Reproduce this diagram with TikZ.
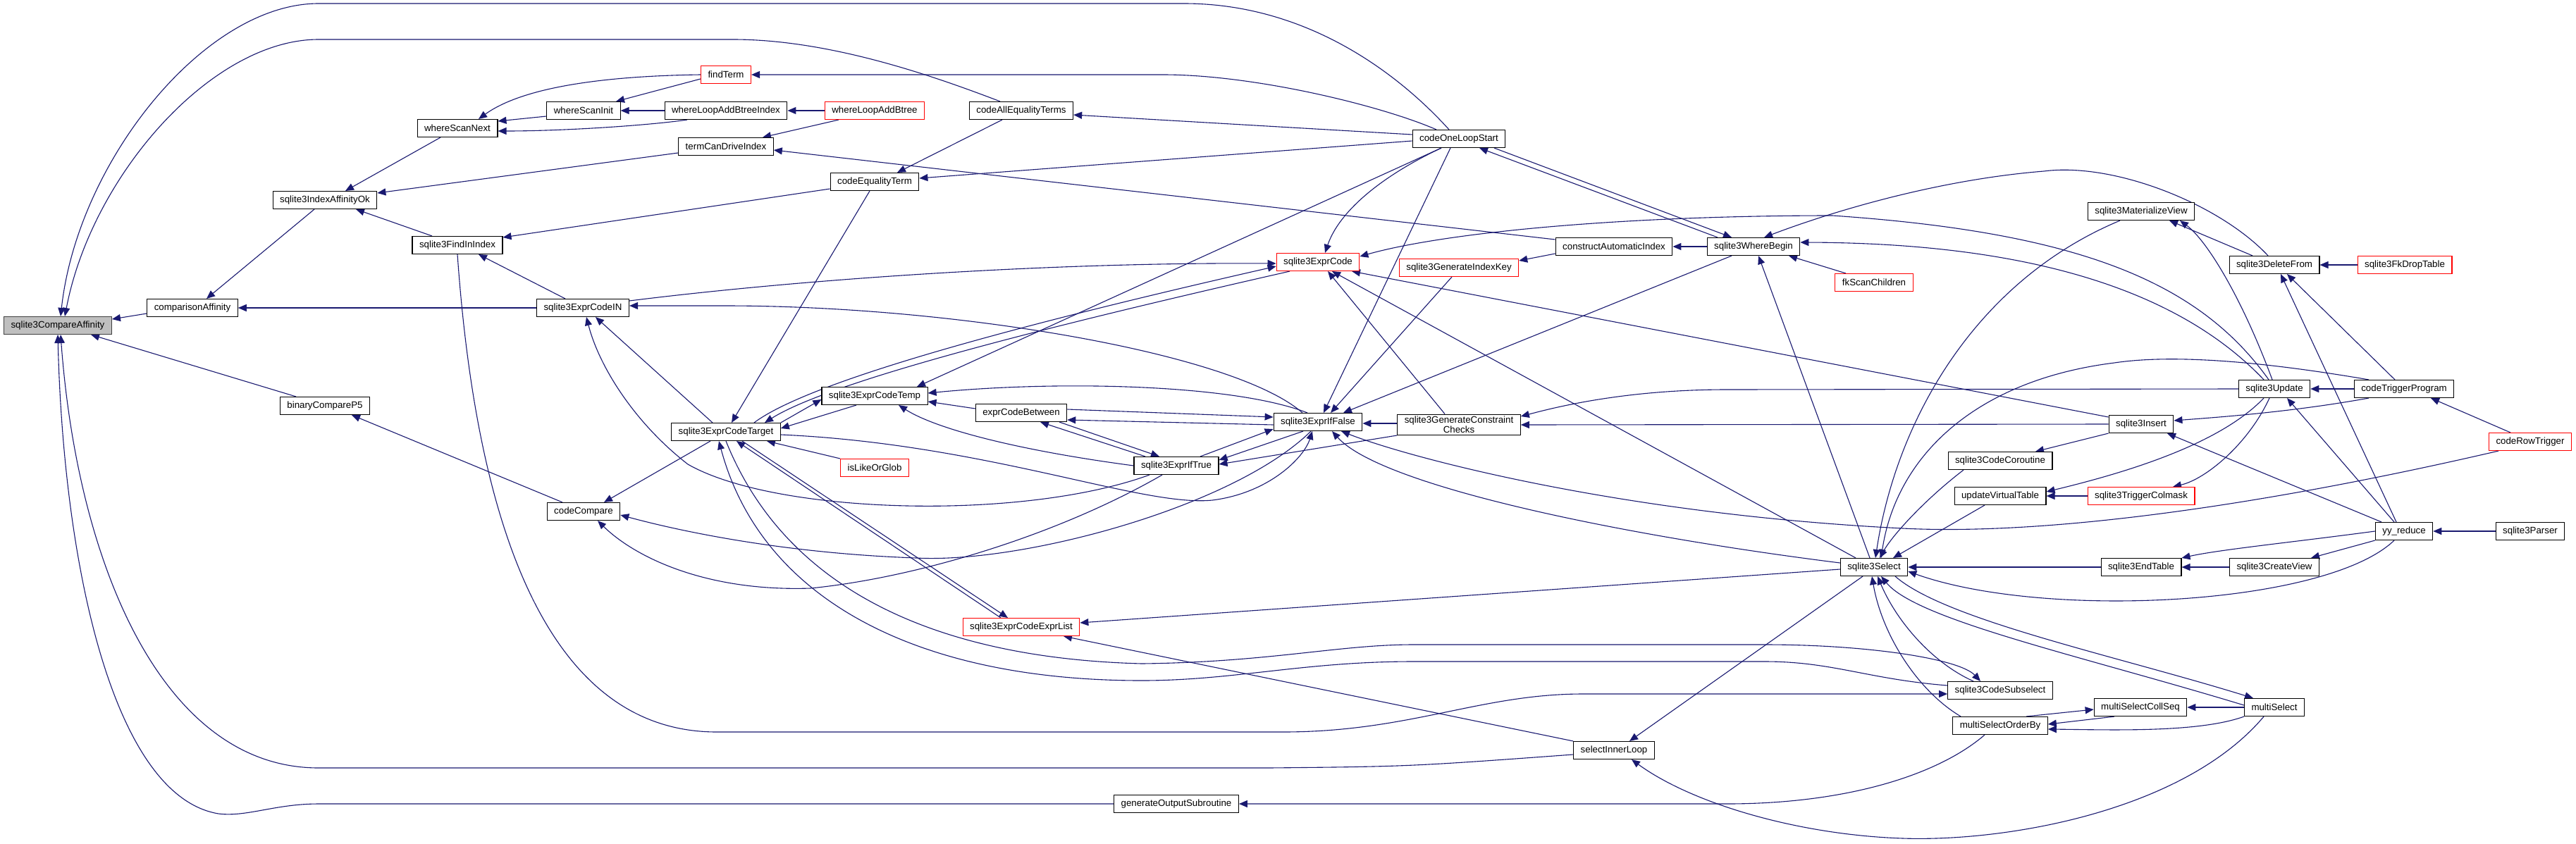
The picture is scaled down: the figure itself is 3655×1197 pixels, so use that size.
\documentclass[tikz,border=0pt]{standalone}
\usepackage{fontspec}
\setmainfont{Liberation Sans}
\usetikzlibrary{arrows.meta,backgrounds}
\definecolor{edgeblue}{RGB}{25,25,112}
\definecolor{calleered}{RGB}{255,0,0}
\definecolor{rootgray}{RGB}{191,191,191}
\tikzset{
  fn/.style={
    draw=black,
    fill=white,
    line width=1.1pt,
    minimum height=25pt,
    inner xsep=10pt,
    inner ysep=3pt,
    align=center,
    font=\fontsize{13.3}{14}\selectfont
  },
  fnred/.style={fn,draw=calleered},
  fnroot/.style={fn,fill=rootgray,draw=black!75},
  call/.style={-{Triangle[length=12pt,width=10pt]},draw=edgeblue,line width=1.1pt}
}

\begin{document}
\begin{tikzpicture}[x=1pt,y=-1pt]
  \useasboundingbox (0,0) rectangle (3655,1197);

  % Function boxes, column by column.
  \node[fnroot] (cmpAff) at (82,462) {sqlite3CompareAffinity};
  \node[fn] (cmpAffinity) at (273,437) {comparisonAffinity};
  \node[fn] (idxAffOk) at (461,284) {sqlite3IndexAffinityOk};
  \node[fn] (binCmpP5) at (461,576) {binaryCompareP5};
  \node[fn] (scanNext) at (649,182) {whereScanNext};
  \node[fn] (findInIdx) at (649,348) {sqlite3FindInIndex};
  \node[fn] (scanInit) at (828,157) {whereScanInit};
  \node[fn] (codeIN) at (827,437) {sqlite3ExprCodeIN};
  \node[fn] (codeCmp) at (828,726) {codeCompare};
  \node[fnred] (findTerm) at (1030,106) {findTerm};
  \node[fn] (addBtreeIdx) at (1030,157) {whereLoopAddBtreeIndex};
  \node[fn] (canDrive) at (1030,208) {termCanDriveIndex};
  \node[fn] (codeTarget) at (1030,613) {sqlite3ExprCodeTarget};
  \node[fnred] (addBtree) at (1241,157) {whereLoopAddBtree};
  \node[fn] (eqTerm) at (1241,258) {codeEqualityTerm};
  \node[fn] (codeTemp) at (1241,562) {sqlite3ExprCodeTemp};
  \node[fnred] (likeGlob) at (1241,664) {isLikeOrGlob};
  \node[fn] (allEqTerms) at (1449,157) {codeAllEqualityTerms};
  \node[fn] (between) at (1449,586) {exprCodeBetween};
  \node[fnred] (exprList) at (1449,890) {sqlite3ExprCodeExprList};
  \node[fn] (ifTrue) at (1669,661) {sqlite3ExprIfTrue};
  \node[fn] (outSub) at (1669,1141) {generateOutputSubroutine};
  \node[fnred] (exprCode) at (1870,372) {sqlite3ExprCode};
  \node[fn] (ifFalse) at (1870,599) {sqlite3ExprIfFalse};
  \node[fn] (loopStart) at (2070,197) {codeOneLoopStart};
  \node[fnred] (idxKey) at (2070,380) {sqlite3GenerateIndexKey};
  \node[fn] (constraint) at (2070,603) {sqlite3GenerateConstraint\\Checks};
  \node[fn] (autoIdx) at (2290,350) {constructAutomaticIndex};
  \node[fn] (innerLoop) at (2290,1065) {selectInnerLoop};
  \node[fn] (whereBegin) at (2488,350) {sqlite3WhereBegin};
  \node[fnred] (fkScan) at (2659,401) {fkScanChildren};
  \node[fn] (select) at (2659,805) {sqlite3Select};
  \node[fn] (coroutine) at (2838,654) {sqlite3CodeCoroutine};
  \node[fn] (updVtab) at (2838,704) {updateVirtualTable};
  \node[fn] (subselect) at (2838,980) {sqlite3CodeSubselect};
  \node[fn] (orderBy) at (2838,1030) {multiSelectOrderBy};
  \node[fn] (matView) at (3038,300) {sqlite3MaterializeView};
  \node[fn] (insert) at (3038,602) {sqlite3Insert};
  \node[fnred] (colmask) at (3038,704) {sqlite3TriggerColmask};
  \node[fn] (endTable) at (3038,805) {sqlite3EndTable};
  \node[fn] (collSeq) at (3037,1004) {multiSelectCollSeq};
  \node[fn] (deleteFrom) at (3227,376) {sqlite3DeleteFrom};
  \node[fn] (update) at (3227,552) {sqlite3Update};
  \node[fn] (createView) at (3227,805) {sqlite3CreateView};
  \node[fn] (multiSel) at (3227,1004) {multiSelect};
  \node[fnred] (fkDrop) at (3412,376) {sqlite3FkDropTable};
  \node[fn] (trigProg) at (3411,552) {codeTriggerProgram};
  \node[fn] (yyReduce) at (3411,754) {yy\_reduce};
  \node[fnred] (rowTrigger) at (3590,627) {codeRowTrigger};
  \node[fn] (parser) at (3590,754) {sqlite3Parser};

  \begin{scope}[on background layer]
  % Callers of sqlite3CompareAffinity.
  \draw[call] ([xshift=-14pt]loopStart.north) .. controls (1980,100) and (1850,5) .. (1680,5) -- (452,5) .. controls (290,5) and (110,230) .. ([xshift=4pt]cmpAff.north);
  \draw[call] ([xshift=-30pt]allEqTerms.north) .. controls (1330,110) and (1180,56) .. (1040,56) -- (452,56) .. controls (300,56) and (130,250) .. ([xshift=10pt]cmpAff.north);
  \draw[call] ([yshift=-8pt]cmpAffinity.west) -- ([yshift=9pt]cmpAff.east);
  \draw[call] ([xshift=-41pt]binCmpP5.north) -- ([xshift=47pt]cmpAff.south);
  \draw[call] ([yshift=-6pt]innerLoop.west) .. controls (2000,1088) .. (1800,1090) -- (452,1090) .. controls (230,1090) and (110,800) .. ([xshift=4pt]cmpAff.south);
  \draw[call] (outSub.west) -- (452,1141) .. controls (390,1141) and (350,1160) .. (310,1155) .. controls (160,1130) and (90,800) .. (cmpAff.south);

  % comparisonAffinity and sqlite3IndexAffinityOk.
  \draw[call] ([xshift=-15pt]idxAffOk.south) -- ([xshift=20pt]cmpAffinity.north);
  \draw[call] (codeIN.west) -- (cmpAffinity.east);
  \draw[call] ([xshift=-24pt]scanNext.south) -- ([xshift=29pt]idxAffOk.north);
  \draw[call] ([yshift=-9pt]canDrive.west) -- ([yshift=10pt]idxAffOk.east);
  \draw[call] ([xshift=-36pt]findInIdx.north) -- ([xshift=44pt]idxAffOk.south);

  % Where-clause scanning.
  \draw[call] (findTerm.west) .. controls (850,108) and (740,125) .. ([xshift=30pt]scanNext.north);
  \draw[call] ([yshift=-8pt]scanInit.west) -- ([yshift=10pt]scanNext.east);
  \draw[call] ([xshift=-55pt]addBtreeIdx.south) .. controls (920,178) and (800,186) .. ([yshift=-4pt]scanNext.east);
  \draw[call] ([yshift=-6pt]findTerm.west) -- ([xshift=46pt]scanInit.north);
  \draw[call] (addBtreeIdx.west) -- (scanInit.east);
  \draw[call] ([xshift=-32pt]loopStart.north) .. controls (1960,150) and (1780,106) .. (1650,106) -- (findTerm.east);
  \draw[call] (addBtree.west) -- (addBtreeIdx.east);
  \draw[call] ([xshift=-51pt]addBtree.south) -- ([xshift=52pt]canDrive.north);
  \draw[call] ([yshift=10pt]autoIdx.west) -- ([yshift=-5pt]canDrive.east);

  % sqlite3FindInIndex and equality terms.
  \draw[call] ([yshift=-10pt]eqTerm.west) -- ([yshift=11pt]findInIdx.east);
  \draw[call] ([xshift=-25pt]codeIN.north) -- ([xshift=30pt]findInIdx.south);
  \draw[call] (findInIdx.south) .. controls (680,800) and (800,1039) .. (1017,1039) -- (1820,1039) .. controls (2000,1039) and (2100,985) .. (2246,985) -- ([yshift=-5pt]subselect.west);
  \draw[call] ([yshift=6pt]loopStart.west) -- ([yshift=-6pt]allEqTerms.east);
  \draw[call] ([xshift=-27pt]allEqTerms.south) -- ([xshift=32pt]eqTerm.north);
  \draw[call] ([yshift=-3pt]loopStart.west) -- ([yshift=5pt]eqTerm.east);
  \draw[call] ([xshift=-7pt]eqTerm.south) -- ([xshift=8pt]codeTarget.north);

  % sqlite3ExprCodeIN.
  \draw[call] ([xshift=-19pt]codeTarget.north) -- ([xshift=18pt]codeIN.south);
  \draw[call] ([xshift=-22pt]ifFalse.north) .. controls (1750,500) and (1350,434) .. (1029,434) -- ([yshift=3pt]codeIN.east);
  \draw[call] ([xshift=-38pt]ifTrue.south) .. controls (1450,740) and (1100,730) .. (976,659) .. controls (900,600) and (850,520) .. ([xshift=5pt]codeIN.south);

  % sqlite3ExprCode.
  \draw[call] ([yshift=10pt]codeIN.east) .. controls (1150,395) and (1500,372) .. ([yshift=-2pt]exprCode.west);
  \draw[call] ([xshift=40pt]codeTarget.north) .. controls (1150,540) and (1450,460) .. ([yshift=-6pt]exprCode.west);
  \draw[call] ([xshift=-40pt]exprCode.south) .. controls (1500,460) and (1180,540) .. ([xshift=55pt]codeTarget.north);
  \draw[call] ([xshift=-25pt]loopStart.south) .. controls (1960,250) and (1900,300) .. ([xshift=10pt]exprCode.north);
  \draw[call] ([xshift=-20pt]constraint.north) -- ([xshift=14pt]exprCode.south);
  \draw[call] ([xshift=-26pt]select.north) -- ([xshift=20pt]exprCode.south);
  \draw[call] ([yshift=10pt]insert.west) -- ([xshift=48pt]exprCode.south);
  \draw[call] ([xshift=-8pt]update.north) .. controls (3120,400) and (2950,330) .. (2600,306) .. controls (2300,306) and (2050,330) .. ([yshift=8pt]exprCode.east);

  % sqlite3ExprCodeTemp.
  \draw[call] (codeTarget.north east) -- ([yshift=-5pt]codeTemp.west);
  \draw[call] ([xshift=-26pt]codeTemp.south) -- ([yshift=5pt]codeTarget.east);
  \draw[call] ([xshift=-25pt]loopStart.south) -- ([xshift=60pt]codeTemp.north);
  \draw[call] ([yshift=6pt]between.west) -- ([yshift=-8pt]codeTemp.east);
  \draw[call] (ifTrue.west) .. controls (1450,640) and (1330,610) .. ([xshift=34pt]codeTemp.south);
  \draw[call] ([xshift=-15pt]ifFalse.north) .. controls (1750,545) and (1500,540) .. ([yshift=4pt]codeTemp.east);

  % exprCodeBetween, sqlite3ExprIfTrue, sqlite3ExprIfFalse.
  \draw[call] ([xshift=-44pt]ifTrue.north) -- ([xshift=27pt]between.south);
  \draw[call] ([yshift=-4pt]ifFalse.west) -- ([yshift=-10pt]between.east);
  \draw[call] ([xshift=54pt]between.south) -- ([xshift=-24pt]ifTrue.north);
  \draw[call] ([yshift=5pt]between.east) -- ([yshift=7pt]ifFalse.west);
  \draw[call] ([xshift=-21pt]ifFalse.south) -- ([yshift=8pt]ifTrue.east);
  \draw[call] ([xshift=34pt]ifTrue.north) -- ([yshift=-10pt]ifFalse.west);
  \draw[call] ([yshift=-15pt]constraint.west) -- ([yshift=2pt]ifTrue.east);
  \draw[call] ([yshift=2pt]constraint.west) -- ([yshift=-2pt]ifFalse.east);
  \draw[call] ([xshift=-12pt]loopStart.south) -- ([xshift=8pt]ifFalse.north);
  \draw[call] ([xshift=-10pt]idxKey.south) -- ([xshift=18pt]ifFalse.north);
  \draw[call] ([xshift=-31pt]whereBegin.south) -- ([xshift=36pt]ifFalse.north);
  \draw[call] ([yshift=-4pt]codeTarget.east) .. controls (1400,630) and (1620,720) .. (1720,710) .. controls (1800,700) and (1850,650) .. ([xshift=-8pt]ifFalse.south);
  \draw[call] ([xshift=-45pt]rowTrigger.south) .. controls (3200,720) and (2900,760) .. (2700,750) .. controls (2300,730) and (2000,650) .. ([xshift=33pt]ifFalse.south);
  \draw[call] ([yshift=6pt]select.west) .. controls (2300,760) and (1960,690) .. ([xshift=20pt]ifFalse.south);

  % codeCompare and binaryCompareP5.
  \draw[call] ([xshift=-22pt]codeTarget.south) -- ([xshift=29pt]codeCmp.north);
  \draw[call] ([xshift=-10pt]ifFalse.south) .. controls (1750,720) and (1450,800) .. (1300,792) .. controls (1100,785) and (950,750) .. ([yshift=-5pt]codeCmp.east);
  \draw[call] ([xshift=-20pt]ifTrue.south) .. controls (1500,760) and (1300,820) .. (1150,835) .. controls (1000,840) and (900,790) .. ([xshift=20pt]codeCmp.south);
  \draw[call] ([xshift=-30pt]codeCmp.north) -- ([xshift=38pt]binCmpP5.south);

  % Expression lists and subselects.
  \draw[call] (likeGlob.north west) -- ([xshift=58pt]codeTarget.south);
  \draw[call] ([xshift=23pt]codeTarget.south) -- ([xshift=-19pt]exprList.north);
  \draw[call] ([xshift=-29pt]exprList.north) -- ([xshift=15pt]codeTarget.south);
  \draw[call] (codeTarget.south) .. controls (1120,850) and (1350,935) .. (1620,942) .. controls (1800,940) and (1900,915) .. (2005,915) -- (2504,915) .. controls (2650,915) and (2780,935) .. ([xshift=-28pt]subselect.north);
  \draw[call] ([yshift=7pt]subselect.west) .. controls (2650,964) and (2600,939) .. (2504,939) -- (2005,939) .. controls (1850,939) and (1750,966) .. (1620,966) .. controls (1300,966) and (1080,850) .. ([xshift=-10pt]codeTarget.south);
  \draw[call] ([yshift=-3pt]select.west) -- ([yshift=6pt]exprList.east);
  \draw[call] (innerLoop.north west) -- ([xshift=60pt]exprList.south);

  % sqlite3WhereBegin.
  \draw[call] ([xshift=-51pt]whereBegin.north) -- ([xshift=29pt]loopStart.south);
  \draw[call] ([xshift=50pt]loopStart.south) -- ([xshift=-31pt]whereBegin.north);
  \draw[call] (whereBegin.west) -- (autoIdx.east);
  \draw[call] ([yshift=-10pt]autoIdx.west) -- ([yshift=10pt]idxKey.east);
  \draw[call] ([xshift=-40pt]fkScan.north) -- ([xshift=50pt]whereBegin.south);
  \draw[call] ([xshift=-6pt]select.north) -- ([xshift=7pt]whereBegin.south);
  \draw[call] ([xshift=-15pt]update.north) .. controls (3080,400) and (2850,345) .. ([yshift=6pt]whereBegin.east);
  \draw[call] ([xshift=-9pt]deleteFrom.north) .. controls (3150,290) and (3000,230) .. (2900,243) .. controls (2750,255) and (2600,300) .. ([xshift=15pt]whereBegin.north);

  % Constraint checks, delete, update, insert.
  \draw[call] (insert.west) -- (constraint.east);
  \draw[call] (update.west) -- (2450,553) .. controls (2300,553) and (2200,580) .. ([yshift=12pt]constraint.east);
  \draw[call] ([xshift=-31pt]deleteFrom.north) -- ([xshift=40pt]matView.south);
  \draw[call] ([xshift=-3pt]update.north) .. controls (3180,420) and (3130,340) .. ([xshift=55pt]matView.south);
  \draw[call] ([xshift=-30pt]matView.south) .. controls (2800,400) and (2690,600) .. ([xshift=2pt]select.north);
  \draw[call] (fkDrop.west) -- (deleteFrom.east);
  \draw[call] ([xshift=-13pt]trigProg.north) -- ([xshift=18pt]deleteFrom.south);
  \draw[call] ([xshift=-11pt]yyReduce.north) -- ([xshift=9pt]deleteFrom.south);
  \draw[call] (trigProg.west) -- (update.east);
  \draw[call] ([xshift=-14pt]yyReduce.north) -- ([xshift=18pt]update.south);
  \draw[call] ([xshift=-28pt]rowTrigger.north) -- ([xshift=38pt]trigProg.south);
  \draw[call] ([xshift=-50pt]trigProg.north) .. controls (3250,520) and (3100,500) .. (3000,515) .. controls (2800,540) and (2690,650) .. ([xshift=10pt]select.north);
  \draw[call] ([xshift=-50pt]trigProg.south) .. controls (3250,585) and (3150,592) .. ([yshift=5pt]insert.east);
  \draw[call] ([xshift=-32pt]yyReduce.north) -- ([xshift=37pt]insert.south);
  \draw[call] (insert.south west) -- ([xshift=50pt]coroutine.north);
  \draw[call] ([xshift=-52pt]coroutine.south) .. controls (2730,710) and (2685,760) .. ([xshift=8pt]select.north);
  \draw[call] ([xshift=-15pt]update.south) .. controls (3150,630) and (3020,670) .. ([yshift=6pt]updVtab.east);
  \draw[call] ([xshift=-7pt]update.south) .. controls (3190,630) and (3130,680) .. ([xshift=45pt]colmask.north);
  \draw[call] (colmask.west) -- (updVtab.east);
  \draw[call] ([xshift=-22pt]updVtab.south) -- ([xshift=27pt]select.north);

  % Parser side.
  \draw[call] (endTable.west) -- (select.east);
  \draw[call] (createView.west) -- (endTable.east);
  \draw[call] (yyReduce.west) .. controls (3250,770) and (3150,780) .. (endTable.north east);
  \draw[call] (yyReduce.south west) -- ([xshift=52pt]createView.north);
  \draw[call] (parser.west) -- (yyReduce.east);
  \draw[call] ([xshift=-14pt]yyReduce.south) .. controls (3300,860) and (2900,880) .. ([yshift=-6pt]select.east);

  % Compound selects.
  \draw[call] ([xshift=-16pt]select.south) -- ([xshift=22pt]innerLoop.north);
  \draw[call] ([xshift=-15pt]multiSel.south) .. controls (3100,1150) and (2850,1195) .. (2700,1190) .. controls (2550,1185) and (2400,1140) .. ([xshift=25pt]innerLoop.south);
  \draw[call] ([xshift=-38pt]subselect.north) .. controls (2740,940) and (2690,880) .. ([xshift=5pt]select.south);
  \draw[call] ([xshift=-56pt]orderBy.north) .. controls (2720,980) and (2670,900) .. ([xshift=-3pt]select.south);
  \draw[call] ([yshift=3pt]multiSel.west) .. controls (2950,930) and (2720,880) .. ([xshift=10pt]select.south);
  \draw[call] ([xshift=30pt]select.south) .. controls (2760,880) and (3000,930) .. ([xshift=-30pt]multiSel.north);
  \draw[call] (multiSel.west) -- (collSeq.east);
  \draw[call] ([xshift=37pt]orderBy.north) -- ([yshift=-3pt]collSeq.west);
  \draw[call] ([xshift=-37pt]collSeq.south) -- ([yshift=2pt]orderBy.east);
  \draw[call] (multiSel.south west) .. controls (3120,1040) and (3000,1036) .. ([yshift=-5pt]orderBy.east);
  \draw[call] ([xshift=-22pt]orderBy.south) .. controls (2750,1100) and (2620,1141) .. (2450,1141) -- (outSub.east);
  \end{scope}
\end{tikzpicture}
\end{document}
